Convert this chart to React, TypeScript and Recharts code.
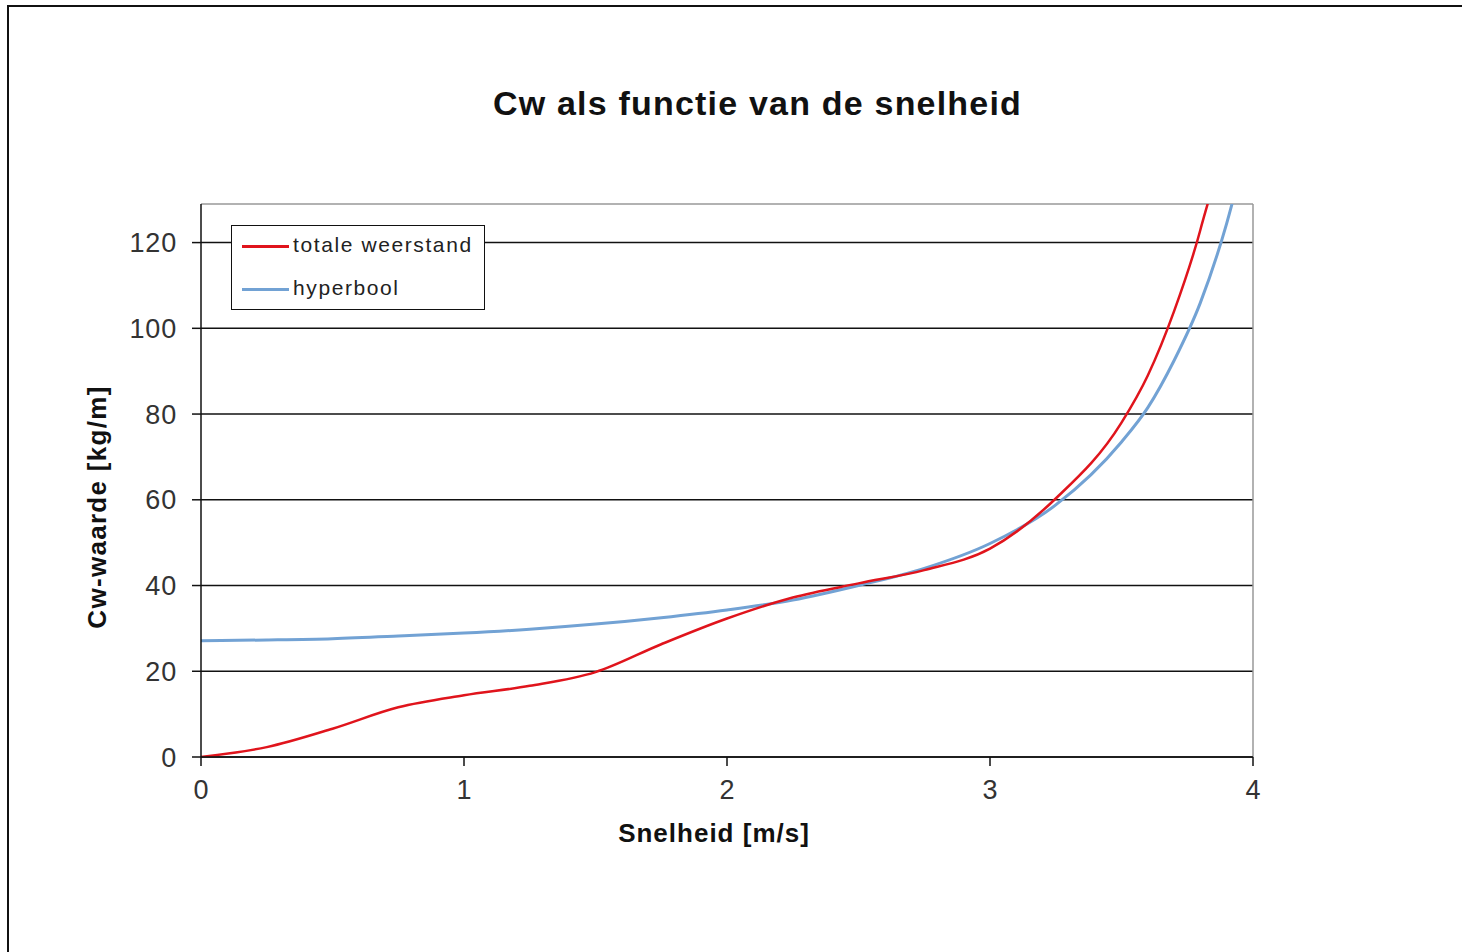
import React from "react";
import {
    LineChart,
    Line,
    XAxis,
    YAxis,
    CartesianGrid,
    ReferenceLine,
} from "recharts";

const speeds = [0, 0.25, 0.5, 0.75, 1.0, 1.25, 1.5, 1.75, 2.0, 2.25, 2.5, 2.75, 3.0, 3.25, 3.5, 3.6, 3.7, 3.8, 3.9, 3.95];
const totaleWeerstand = [0, 2.3, 6.6, 11.6, 14.4, 16.6, 19.8, 26.3, 32.3, 37.2, 40.5, 43.6, 48.6, 60.3, 78, 89, 104, 123, 150, 175];
const hyperbool = [27.1, 27.3, 27.6, 28.2, 28.9, 29.8, 31.0, 32.5, 34.3, 36.6, 40.0, 44.0, 49.8, 58.8, 73.5, 81.5, 92.5, 106, 124.5, 136];

const xTicks = [0, 1, 2, 3, 4];
const yTicks = [0, 20, 40, 60, 80, 100, 120];

const data = speeds.map((s, i) => ({
    speed: s,
    totaal: totaleWeerstand[i],
    hyper: hyperbool[i],
}));

const RED = "#e0141c";
const BLUE = "#72a2d4";
const FONT = "'Liberation Sans', Arial, sans-serif";

const W = 1300;
const H = 900;
const yAxisW = 80;
const xAxisH = 60;

export default function App() {
    return (
        <div
            style={{
                position: "absolute",
                left: 0,
                top: 0,
                width: 1462,
                height: 952,
                background: "#fff",
                overflow: "hidden",
                fontFamily: FONT,
            }}
        >
            {/* outer frame */}
            <div
                style={{
                    position: "absolute",
                    left: 7,
                    top: 5,
                    width: 1470,
                    height: 960,
                    borderTop: "2px solid #111",
                    borderLeft: "2px solid #111",
                }}
            />

            <div
                style={{
                    position: "absolute",
                    left: 0,
                    top: 84,
                    width: 1515,
                    textAlign: "center",
                    fontSize: 34,
                    letterSpacing: 1.2,
                    fontWeight: "bold",
                    color: "#111",
                }}
            >
                Cw als functie van de snelheid
            </div>

            <div style={{ position: "absolute", left: 0, top: 0 }}>
                <LineChart
                    width={W}
                    height={H}
                    data={data}
                    margin={{ top: 204, right: W - 1253, left: 201 - yAxisW, bottom: H - 757 - xAxisH }}
                >
                    <CartesianGrid stroke="#111" strokeWidth={1.5} vertical={false} horizontalValues={yTicks} />
                    <ReferenceLine y={129} stroke="#999" strokeWidth={1.5} />
                    <ReferenceLine x={4} stroke="#999" strokeWidth={1.5} />
                    <XAxis
                        dataKey="speed"
                        type="number"
                        domain={[0, 4]}
                        ticks={xTicks}
                        height={xAxisH}
                        stroke="#111"
                        strokeWidth={1.5}
                        tickSize={9}
                        tick={{ fill: "#333", fontSize: 27, fontFamily: FONT }}
                        tickMargin={14}
                    />
                    <YAxis
                        type="number"
                        domain={[0, 129]}
                        allowDataOverflow
                        ticks={yTicks}
                        width={yAxisW}
                        stroke="#111"
                        strokeWidth={1.5}
                        tickSize={9}
                        tick={{ fill: "#333", fontSize: 27, fontFamily: FONT, letterSpacing: 0.8 }}
                        tickMargin={15}
                    />
                    <Line
                        type="monotone"
                        dataKey="hyper"
                        stroke={BLUE}
                        strokeWidth={3}
                        dot={false}
                        isAnimationActive={false}
                    />
                    <Line
                        type="monotone"
                        dataKey="totaal"
                        stroke={RED}
                        strokeWidth={2.5}
                        dot={false}
                        isAnimationActive={false}
                    />
                </LineChart>
            </div>

            {/* legend */}
            <div
                style={{
                    position: "absolute",
                    left: 231,
                    top: 225,
                    width: 252,
                    height: 83,
                    border: "1.5px solid #111",
                    background: "#fff",
                    color: "#222",
                    fontSize: 21,
                    letterSpacing: 1.6,
                }}
            >
                <div style={{ position: "absolute", left: 10, top: 19, width: 47, height: 3, background: RED }} />
                <div style={{ position: "absolute", left: 61, top: 7 }}>totale weerstand</div>
                <div style={{ position: "absolute", left: 10, top: 62, width: 47, height: 3, background: BLUE }} />
                <div style={{ position: "absolute", left: 61, top: 50 }}>hyperbool</div>
            </div>

            <div
                style={{
                    position: "absolute",
                    left: 564,
                    top: 818,
                    width: 300,
                    textAlign: "center",
                    fontSize: 26,
                    letterSpacing: 1,
                    fontWeight: "bold",
                    color: "#111",
                }}
            >
                Snelheid [m/s]
            </div>

            <div
                style={{
                    position: "absolute",
                    left: 97 - 150,
                    top: 507 - 15,
                    width: 300,
                    height: 30,
                    lineHeight: "30px",
                    textAlign: "center",
                    fontSize: 26,
                    letterSpacing: 1.3,
                    fontWeight: "bold",
                    color: "#111",
                    transform: "rotate(-90deg)",
                }}
            >
                Cw-waarde [kg/m]
            </div>
        </div>
    );
}
